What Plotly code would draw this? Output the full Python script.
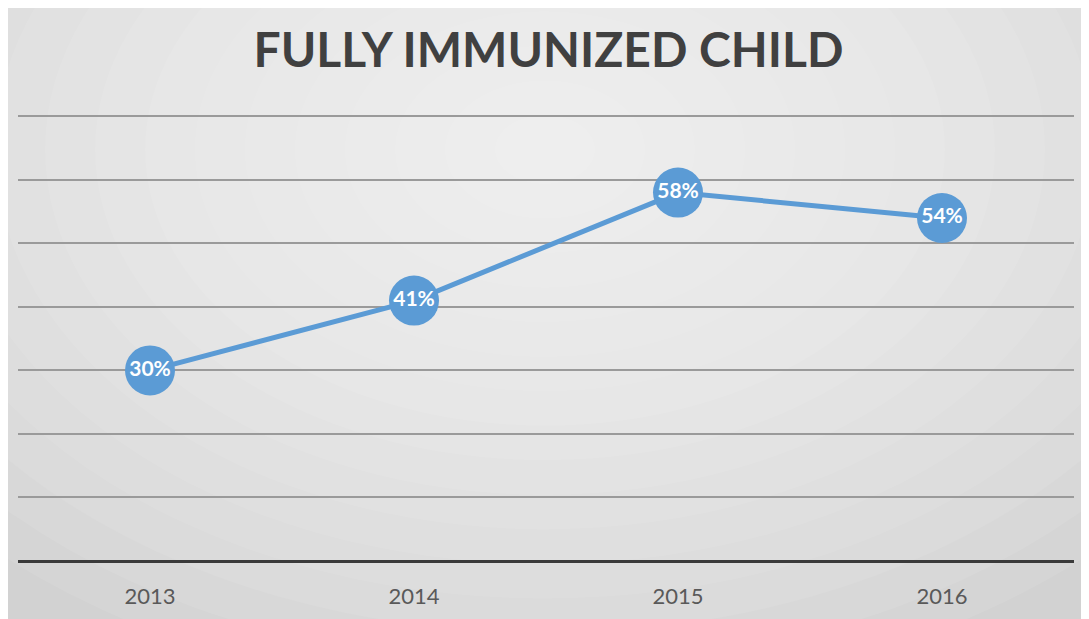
import plotly.graph_objects as go

years = ["2013", "2014", "2015", "2016"]
values = [30, 41, 58, 54]
labels = ["30%", "41%", "58%", "54%"]
y_ticks = [0, 10, 20, 30, 40, 50, 60, 70]
title_text = "FULLY IMMUNIZED CHILD"

# page body has an 8px margin, so the figure is offset by 8px
OFF = 8
W, H = 1089 - OFF, 619 - OFF
L, R, T, B = 18 - OFF, 15, 102, 52
pw, ph = W - L - R, H - T - B

def px_to_paper_x(x):
    return (x - OFF - L) / pw

def px_to_paper_y(y):
    return (H - B - (y - OFF)) / ph

fig = go.Figure()
fig.add_trace(go.Scatter(
    x=years, y=values, mode="lines+markers+text",
    text=labels, textposition="middle center",
    textfont=dict(family="Lato", size=21, color="white", weight="bold"),
    line=dict(color="#5b9bd5", width=5),
    marker=dict(size=50, color="#5b9bd5", line=dict(width=0)),
    cliponaxis=False, showlegend=False,
))

shapes = []
# fake radial gradient background
cx, cy = 545, 150
n = 16
for i in range(n):
    f = 1 - i / n
    rx, ry = 800 * f, 560 * f
    shapes.append(dict(
        type="circle", xref="paper", yref="paper", layer="below",
        x0=px_to_paper_x(cx - rx), x1=px_to_paper_x(cx + rx),
        y0=px_to_paper_y(cy + ry), y1=px_to_paper_y(cy - ry),
        fillcolor="rgba(255,255,255,0.08)", line=dict(width=0),
    ))

fig.update_layout(
    width=W, height=H,
    margin=dict(l=L, r=R, t=T, b=B),
    paper_bgcolor="#d2d2d2",
    plot_bgcolor="rgba(0,0,0,0)",
    shapes=shapes,
    title=dict(text=title_text, x=0.5, xanchor="center", y=1 - (50 - OFF) / H, yanchor="middle",
               font=dict(family="Lato", size=48, color="#404040", weight="bold")),
    xaxis=dict(type="category", range=[-0.5, 3.5], showgrid=False, zeroline=False,
               showline=False, ticks="", tickfont=dict(family="Lato", size=22, color="#595959"),
               ticklabelstandoff=20),
    yaxis=dict(range=[0, 71], tickvals=y_ticks, showticklabels=False, showgrid=True,
               gridcolor="#9a9a9a", gridwidth=2, zeroline=True, zerolinecolor="#3a3a3a",
               zerolinewidth=3, showline=False),
)

fig.write_html("out.html")
